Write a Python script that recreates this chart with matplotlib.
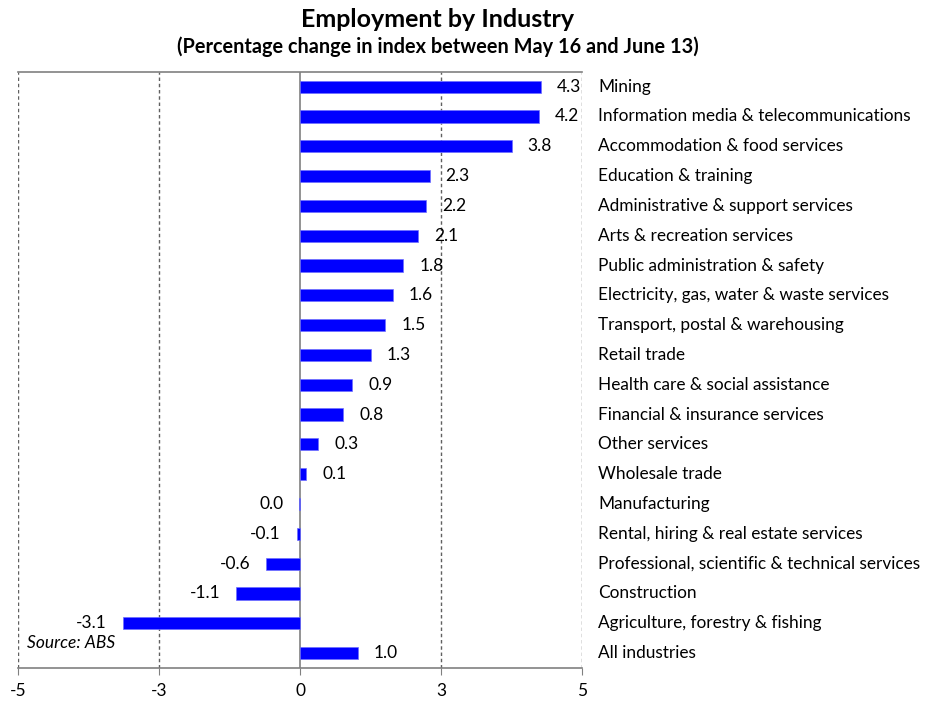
import matplotlib
matplotlib.use("Agg")
import matplotlib.pyplot as plt

industries = [
    "Mining",
    "Information media & telecommunications",
    "Accommodation & food services",
    "Education & training",
    "Administrative & support services",
    "Arts & recreation services",
    "Public administration & safety",
    "Electricity, gas, water & waste services",
    "Transport, postal & warehousing",
    "Retail trade",
    "Health care & social assistance",
    "Financial & insurance services",
    "Other services",
    "Wholesale trade",
    "Manufacturing",
    "Rental, hiring & real estate services",
    "Professional, scientific & technical services",
    "Construction",
    "Agriculture, forestry & fishing",
    "All industries",
]
changes = [4.27, 4.24, 3.75, 2.30, 2.23, 2.10, 1.83, 1.64, 1.51, 1.26,
           0.93, 0.77, 0.32, 0.11, -0.01, -0.06, -0.60, -1.13, -3.14, 1.02]
value_labels = ["4.3", "4.2", "3.8", "2.3", "2.2", "2.1", "1.8", "1.6", "1.5", "1.3",
                "0.9", "0.8", "0.3", "0.1", "0.0", "-0.1", "-0.6", "-1.1", "-3.1", "1.0"]
tick_values = [-5, -2.5, 0, 2.5, 5]
tick_labels = ["-5", "-3", "0", "3", "5"]

plt.rcParams["font.family"] = ["Lato", "DejaVu Sans"]

fig = plt.figure(figsize=(9.25, 7.01), dpi=100)
ax = fig.add_axes([0.0195, 0.0471, 0.6097, 0.8506])

ypos = list(range(len(industries)))
ax.barh(ypos, changes, height=0.41, color="#0000ff", edgecolor="#6f6fff", linewidth=0.5, zorder=3)

for y, v, lab in zip(ypos, changes, value_labels):
    if v >= 0:
        ax.annotate(lab, (v, y), xytext=(11.5, 0), textcoords="offset points",
                    ha="left", va="center", fontsize=12.5, color="black")
    else:
        ax.annotate(lab, (v, y), xytext=(-11.5, 0), textcoords="offset points",
                    ha="right", va="center", fontsize=12.5, color="black")

ax.set_xlim(-5, 5)
ax.set_ylim(len(industries) - 0.5, -0.5)

# dashed gridlines at every tick except zero
for t in tick_values:
    if t == 0:
        ax.axvline(t, color="#808080", linewidth=1.2, zorder=2)
    else:
        ax.axvline(t, color="#606060", linewidth=1.0, linestyle=(0, (2.5, 2)), zorder=1)

ax.set_xticks(tick_values)
ax.set_xticklabels(tick_labels, fontsize=12.5)
ax.tick_params(axis="x", direction="out", length=5, color="#808080", pad=6)
ax.set_yticks([])

for side in ["left", "right"]:
    ax.spines[side].set_visible(False)
for side in ["top", "bottom"]:
    ax.spines[side].set_color("#808080")
    ax.spines[side].set_linewidth(1.2)

# category names to the right of the plot area
for y, name in zip(ypos, industries):
    ax.annotate(name, (1, y), xycoords=("axes fraction", "data"), xytext=(11.5, 0),
                textcoords="offset points", ha="left", va="center", fontsize=12.45)

ax.text(0.016, 0.042, "Source: ABS", transform=ax.transAxes, fontsize=12.5,
        style="italic", ha="left", va="center")

fig.text(0.473, 0.972, "Employment by Industry", ha="center", va="center",
         fontsize=18, fontweight="bold")
fig.text(0.473, 0.933, "(Percentage change in index between May 16 and June 13)",
         ha="center", va="center", fontsize=14.3, fontweight="bold")

fig.savefig("out.png", dpi=100)
